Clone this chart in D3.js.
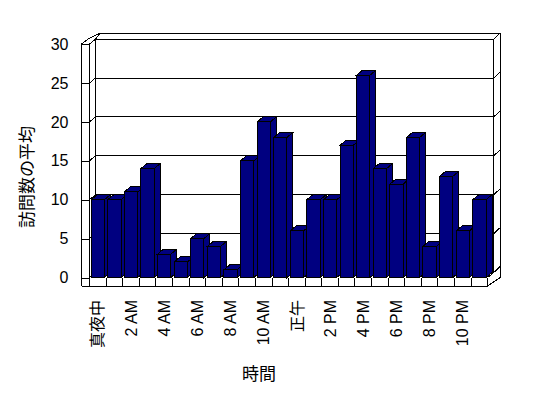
<!DOCTYPE html>
<html><head><meta charset="utf-8">
<script src="https://cdn.jsdelivr.net/npm/d3@7"></script>
<style>
html,body{margin:0;padding:0;background:#fff;}
svg{display:block;}
text{font-family:"Liberation Sans","Noto Sans CJK JP",sans-serif;fill:#000;}
</style></head>
<body>
<svg id="c" width="548" height="398" shape-rendering="crispEdges"></svg>
<script>
const categories = ["真夜中","1 AM","2 AM","3 AM","4 AM","5 AM","6 AM","7 AM","8 AM","9 AM","10 AM","11 AM",
  "正午","1 PM","2 PM","3 PM","4 PM","5 PM","6 PM","7 PM","8 PM","9 PM","10 PM","11 PM"];
const visits = [10,10,11,14,3,2,5,4,1,15,20,18,6,10,10,17,26,14,12,18,4,13,6,10];
const yTicks = [0,5,10,15,20,25,30];
const xTickLabels = ["真夜中","2 AM","4 AM","6 AM","8 AM","10 AM","正午","2 PM","4 PM","6 PM","8 PM","10 PM"];
const xTitle = "時間";
const yTitle = "訪問数の平均";

const svg = d3.select("#c");
const BAR = "#000080";
const D1 = [6, -5];     // front -> back wall inner face
const D2 = [12.5, -11]; // front -> back wall outer face
const xL = 89.5, xR = 487.7, yBase = 277.5, yFloorBottom = 286, xWallOuter = 81.5;

const x = d3.scaleBand().domain(categories).range([xL, xR]).paddingInner(0.2).paddingOuter(0.1);
const y = d3.scaleLinear().domain([0, 30]).range([yBase, 44.1]);
const yb = v => y(v) + D1[1];

const g = svg.append("g").attr("fill", "none").attr("stroke", "#000").attr("stroke-width", 1);
const line = (pts) => g.append("path").attr("d", d3.line()(pts));

// back wall inner face + gridlines
g.append("rect").attr("x", xL + D1[0]).attr("y", yb(30)).attr("width", xR - xL).attr("height", yb(0) - yb(30)).attr("fill", "#fff");
yTicks.forEach(v => {
  line([[xL, y(v)], [xL + D1[0], yb(v)], [xR + D1[0], yb(v)], [xR + D2[0], y(v) + D2[1]]]);
});
// outer top and right of back wall slab
line([[xL + D1[0], yb(30)], [xL + D2[0] - 2, y(30) + D2[1]], [xR + D2[0], y(30) + D2[1]], [xR + D2[0], yBase]]);
line([[xR + D1[0], yb(30)], [xR + D2[0], y(30) + D2[1]]]);
line([[xR + D1[0], yb(30)], [xR + D1[0], yb(0)]]);
// left wall front face
line([[xWallOuter, y(30)], [xL, y(30)]]);
line([[xWallOuter, y(30)], [xL - 1.5, yb(30)], [xL + D2[0] - 2, y(30) + D2[1]]]);
line([[xWallOuter, y(30)], [xWallOuter, yFloorBottom]]);
line([[xL, y(30)], [xL, yBase]]);
line([[xL + D1[0], yb(30)], [xL + D1[0], yb(0)]]);
// floor front face and right side
line([[xWallOuter, yFloorBottom], [xR, yFloorBottom], [xR, yBase]]);
line([[xR, yFloorBottom], [xR + D2[0], yBase]]);
line([[xR, yBase], [xR + D1[0], yb(0)]]);
// category dividers on floor front face
const step = x.step();
d3.range(categories.length + 1).forEach(i => {
  const xx = x(categories[0]) - x.paddingOuter() * step + i * step;
  line([[xx, yBase], [xx, yFloorBottom]]);
});

// y axis on left wall
const yAxis = d3.axisLeft(y).tickValues(yTicks).tickSize(8).tickPadding(13);
const ya = svg.append("g").attr("transform", `translate(${xL},0)`).call(yAxis);
ya.select(".domain").remove();
ya.selectAll(".tick line").attr("stroke", "#000");
ya.selectAll("text").style("font-size", "16px").attr("fill", "#000");

// bars
const bars = svg.append("g").attr("stroke", "#000").attr("stroke-width", 1).attr("fill", BAR).attr("stroke-linejoin", "miter");
categories.forEach((c, i) => {
  const v = visits[i];
  const x0 = x(c), w = x.bandwidth(), yf = y(v), ybk = yb(v);
  const bg = bars.append("g");
  bg.append("path").attr("d", d3.line()([[x0 + w, yf], [x0 + w + D1[0], ybk], [x0 + w + D1[0], yb(0)], [x0 + w, yBase]]) + "Z");
  bg.append("path").attr("d", d3.line()([[x0, yf], [x0 + D1[0], ybk], [x0 + w + D1[0], ybk], [x0 + w, yf]]) + "Z");
  bg.append("rect").attr("x", x0).attr("y", yf).attr("width", w).attr("height", yBase - yf);
});

// x axis labels
const labelMap = new Map();
categories.forEach((c, i) => { if (i % 2 === 0) labelMap.set(c, xTickLabels[i / 2]); });
const xAxis = d3.axisBottom(x).tickValues(categories.filter((c, i) => i % 2 === 0))
  .tickFormat(c => labelMap.get(c)).tickSize(0).tickPadding(0);
const xa = svg.append("g").attr("transform", "translate(0,300)").call(xAxis);
xa.select(".domain").remove();
xa.selectAll(".tick text")
  .attr("transform", "rotate(-90)")
  .attr("text-anchor", "end")
  .attr("x", 0).attr("y", 0).attr("dy", "0.35em")
  .style("font-size", "16px").attr("fill", "#000");

// titles
svg.append("text").attr("x", 259).attr("y", 376).attr("text-anchor", "middle").attr("dominant-baseline", "middle")
  .style("font-size", "17px").text(xTitle);
svg.append("text").attr("transform", "translate(29,177) rotate(-90)").attr("text-anchor", "middle").attr("dominant-baseline", "middle")
  .style("font-size", "17px").text(yTitle);
</script>
</body></html>
